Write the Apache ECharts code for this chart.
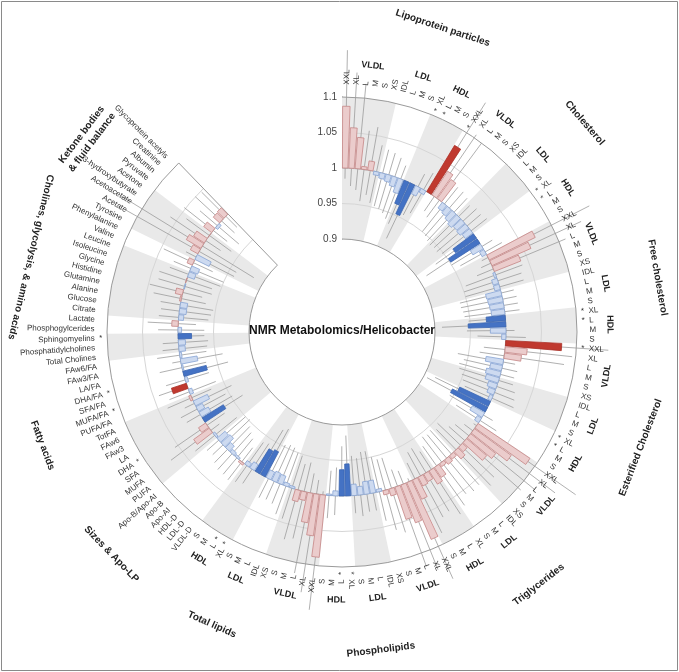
<!DOCTYPE html>
<html>
<head>
<meta charset="utf-8">
<script src="https://cdn.jsdelivr.net/npm/echarts@6/dist/echarts.min.js"></script>
<style>
  html, body { margin: 0; padding: 0; background: #fff; }
  #chart { width: 679px; height: 672px; }
</style>
</head>
<body>
<div id="chart"></div>
<script>
// labels of the lipoprotein subclasses (same for the 7 lipid groups)
var lipoLabels = ['XXL','XL','L','M','S','XS','IDL','L','M','S','XL','L','M','S'];
var lipoSubGroups = [['VLDL', 0, 5], ['LDL', 6, 9], ['HDL', 10, 13]];

var sizeLabels = ['VLDL-D','LDL-D','HDL-D','Apo-AI','Apo-B','Apo-B/Apo-AI'];
var faLabels = ['PUFA','MUFA','SFA','DHA','LA','FAw3','FAw6','TotFA','PUFA/FA','MUFA/FA','SFA/FA','DHA/FA','LA/FA','FAw3/FA','FAw6/FA'];
var cholineLabels = ['Total Cholines','Phosphatidylcholines','Sphingomyelins','Phosphogylcerides','Lactate','Citrate','Glucose','Alanine','Glutamine','Histidine','Glycine','Isoleucine','Leucine','Valine','Phenylalanine','Tyrosine'];
var ketoneLabels = ['Acetate','Acetoacetate','3-hydroxybutyrate','Acetone','Pyruvate','Albumin','Creatinine','Glycoprotein acetyls'];

var groupTitles = ['Lipoprotein particles','Cholesterol','Free cholesterol','Esterified Cholesterol','Triglycerides','Phospholipids','Total lipids','Sizes & Apo-LP','Fatty acids','Cholines, glycolysis, & amino acids','Ketone bodies\n& fluid balance'];

// odds ratios
var orParticles = [1.087,1.057,1.044,1.004,1.013,0.995,0.992,0.990,0.986,0.979,0.965,0.952,0.987,0.994];
var orChol      = [1.076,1.040,1.033,0.990,0.988,0.985,0.982,0.985,0.984,0.987,0.964,0.951,0.983,0.993];
var orFreeChol  = [1.072,1.060,1.040,0.997,0.992,0.992,0.978,0.979,0.980,0.981,0.973,0.947,0.978,0.994];
var orEstChol   = [1.079,1.031,1.024,0.975,0.983,0.979,0.981,0.987,0.990,0.995,0.952,0.944,0.980,0.993];
var orTG        = [1.088,1.064,1.045,1.037,1.009,1.014,1.006,1.008,1.005,1.017,1.022,1.012,1.014,1.030];
var orPL        = [1.087,1.057,1.048,1.010,1.006,0.996,0.982,0.982,0.988,0.984,0.955,0.963,0.993,0.998];
var orTL        = [1.088,1.059,1.042,1.012,1.016,0.997,0.995,0.987,0.986,0.988,0.960,0.963,0.990,0.994];
var orSize      = [1.003,0.997,0.995,0.990,0.983,0.985];
var orFA        = [0.997,1.027,1.012,0.965,0.985,0.990,0.978,1.003,0.995,1.022,0.996,0.966,0.998,0.976,0.997];
var orCholine   = [0.991,0.990,0.981,0.995,1.009,0.993,0.990,0.990,1.002,1.010,0.999,1.000,0.990,0.988,1.008,0.978];
var orKetone    = [1.012,1.024,1.018,1.000,1.014,0.996,1.012,1.013];

// 95% confidence intervals [low, high]
var ciParticles = [[0.985,1.166],[0.975,1.135],[0.97,1.12],[0.955,1.055],[0.965,1.062],[0.955,1.038],[0.952,1.034],[0.95,1.032],[0.946,1.028],[0.94,1.02],[0.935,0.996],[0.915,0.993],[0.955,1.02],[0.962,1.027]];
var ciChol = [[1.003,1.15],[0.975,1.105],[0.97,1.1],[0.95,1.03],[0.948,1.03],[0.945,1.027],[0.943,1.022],[0.945,1.026],[0.944,1.025],[0.948,1.028],[0.932,0.997],[0.912,0.992],[0.95,1.017],[0.96,1.027]];
var ciFreeChol = [[0.99,1.16],[0.985,1.14],[0.975,1.11],[0.955,1.04],[0.95,1.035],[0.95,1.035],[0.94,1.018],[0.94,1.02],[0.942,1.02],[0.943,1.021],[0.948,0.998],[0.91,0.985],[0.945,1.012],[0.96,1.028]];
var ciEstChol = [[1.008,1.145],[0.97,1.095],[0.965,1.085],[0.935,1.017],[0.945,1.022],[0.94,1.02],[0.942,1.021],[0.948,1.027],[0.952,1.03],[0.958,1.033],[0.915,0.99],[0.905,0.985],[0.945,1.015],[0.96,1.027]];
var ciTG = [[0.995,1.17],[0.985,1.145],[0.975,1.12],[0.97,1.105],[0.955,1.065],[0.96,1.07],[0.955,1.058],[0.957,1.06],[0.955,1.056],[0.966,1.068],[0.97,1.075],[0.96,1.063],[0.962,1.066],[0.975,1.085]];
var ciPL = [[0.995,1.15],[0.98,1.13],[0.975,1.12],[0.955,1.065],[0.955,1.058],[0.95,1.042],[0.94,1.025],[0.94,1.025],[0.948,1.03],[0.944,1.025],[0.915,0.996],[0.93,0.997],[0.96,1.027],[0.965,1.032]];
var ciTL = [[0.995,1.163],[0.98,1.14],[0.972,1.115],[0.958,1.068],[0.962,1.072],[0.952,1.045],[0.95,1.042],[0.945,1.03],[0.944,1.028],[0.947,1.03],[0.925,0.996],[0.93,0.997],[0.957,1.024],[0.96,1.028]];
var ciSize = [[0.975,1.032],[0.965,1.03],[0.96,1.03],[0.955,1.026],[0.948,1.02],[0.95,1.022]];
var ciFA = [[0.96,1.035],[0.985,1.07],[0.97,1.055],[0.935,0.996],[0.948,1.022],[0.955,1.026],[0.942,1.015],[0.97,1.037],[0.96,1.03],[1.003,1.042],[0.965,1.028],[0.935,0.998],[0.965,1.032],[0.94,1.012],[0.962,1.032]];
var ciCholine = [[0.96,1.023],[0.958,1.022],[0.963,0.999],[0.963,1.028],[0.975,1.043],[0.958,1.028],[0.955,1.026],[0.953,1.028],[0.965,1.04],[0.972,1.048],[0.96,1.038],[0.962,1.04],[0.952,1.028],[0.95,1.026],[0.97,1.046],[0.94,1.016]];
var ciKetone = [[0.94,1.12],[0.915,1.135],[0.975,1.06],[0.962,1.04],[0.975,1.052],[0.96,1.032],[0.975,1.05],[0.978,1.048]];

// starred (significant) items, position inside each group
var sigParticles = [10, 11];
var sigChol = [0, 10, 11];
var sigFreeChol = [10, 11];
var sigEstChol = [0, 10, 11];
var sigTG = [];
var sigPL = [10, 11];
var sigTL = [10, 11];
var sigSize = [];
var sigFA = [3, 9, 11];
var sigCholine = [2];
var sigKetone = [];

var groupLabels = [lipoLabels, lipoLabels, lipoLabels, lipoLabels, lipoLabels, lipoLabels, lipoLabels, sizeLabels, faLabels, cholineLabels, ketoneLabels];
var groupOR = [orParticles, orChol, orFreeChol, orEstChol, orTG, orPL, orTL, orSize, orFA, orCholine, orKetone];
var groupCI = [ciParticles, ciChol, ciFreeChol, ciEstChol, ciTG, ciPL, ciTL, ciSize, ciFA, ciCholine, ciKetone];
var groupSig = [sigParticles, sigChol, sigFreeChol, sigEstChol, sigTG, sigPL, sigTL, sigSize, sigFA, sigCholine, sigKetone];

// grey bands outside the lipid groups (first, last category of each band)
var extraBands = [[104, 111], [119, 121], [124, 131], [134, 138]];

var cats = [], categoryNames = [], groupRange = [];
groupLabels.forEach(function (labels, g) {
  var start = cats.length;
  labels.forEach(function (lab, k) {
    cats.push({
      label: lab, or: groupOR[g][k], lo: groupCI[g][k][0], hi: groupCI[g][k][1],
      sig: groupSig[g].indexOf(k) >= 0
    });
    categoryNames.push(groupTitles[g] + ' ' + k + ' ' + lab);
  });
  groupRange.push([start, cats.length - 1]);
});

var bands = [];
for (var g = 0; g < 7; g++) {
  lipoSubGroups.forEach(function (sg, s) {
    if ((g * 3 + s) % 2 === 0) bands.push([groupRange[g][0] + sg[1], groupRange[g][0] + sg[2]]);
  });
}
bands = bands.concat(extraBands);

var subLabels = [];
for (var g2 = 0; g2 < 7; g2++) {
  lipoSubGroups.forEach(function (sg) {
    subLabels.push({ text: sg[0], i0: groupRange[g2][0] + sg[1], i1: groupRange[g2][0] + sg[2] });
  });
}

var FONT = 'Liberation Sans, Arial, sans-serif';

function angleOf(params, api, idx) {
  var cs = params.coordSys, p = api.coord([1, idx]);
  return Math.atan2(p[1] - cs.cy, p[0] - cs.cx);
}
function radiusOf(params, api, v) {
  var cs = params.coordSys, p = api.coord([v, 0]);
  return Math.sqrt((p[0] - cs.cx) * (p[0] - cs.cx) + (p[1] - cs.cy) * (p[1] - cs.cy));
}
function bandOf(api) { return api.size([0, 1])[1]; }
function clockDeg(a) { var d = (a * 180 / Math.PI + 90) % 360; return d < 0 ? d + 360 : d; }
function midAngle(params, api, i0, i1) {
  var a0 = angleOf(params, api, i0), a1 = angleOf(params, api, i1);
  while (a1 < a0) a1 += 2 * Math.PI;
  return (a0 + a1) / 2;
}
function tangentText(params, api, v, a, text, font, flipMax) {
  var cs = params.coordSys, r = radiusOf(params, api, v), d = clockDeg(a);
  var flip = d > 90 && d < flipMax;
  return {
    type: 'text', x: cs.cx + r * Math.cos(a), y: cs.cy + r * Math.sin(a),
    rotation: flip ? Math.PI / 2 - a : -(a + Math.PI / 2),
    style: { text: text, font: font, fill: '#222', align: 'center', verticalAlign: 'middle', lineHeight: 13 }
  };
}

var option = {
  animation: false,
  backgroundColor: '#fff',
  textStyle: { fontFamily: FONT },
  polar: { center: [342, 332], radius: [93, 235] },
  angleAxis: {
    type: 'category', data: categoryNames, startAngle: 90, endAngle: -226, clockwise: true,
    axisLine: { show: false }, axisTick: { show: false }, axisLabel: { show: false }, splitLine: { show: false }
  },
  radiusAxis: {
    type: 'value', min: 0.9, max: 1.1, interval: 0.05,
    axisLine: { lineStyle: { color: '#9a9a9a', width: 1 } },
    axisTick: { show: false },
    axisLabel: { fontSize: 10, color: '#444', margin: 5 },
    splitLine: { show: false }
  },
  graphic: [
    { type: 'rect', shape: { x: 1.5, y: 1.5, width: 676, height: 669 }, style: { fill: 'none', stroke: '#8a8a8a', lineWidth: 1 }, z: 0 },
    { type: 'text', x: 342, y: 331, style: { text: 'NMR Metabolomics/Helicobacter', font: 'bold 12px ' + FONT, fill: '#111', align: 'center', verticalAlign: 'middle' }, z: 20 }
  ],
  series: [
    { // grey bands
      type: 'custom', coordinateSystem: 'polar', z: 1, silent: true,
      data: bands.map(function (b) { return [1.1, b[0]]; }),
      renderItem: function (params, api) {
        var b = bands[params.dataIndex], cs = params.coordSys, half = bandOf(api) / 2;
        var s = angleOf(params, api, b[0]) - half, e = angleOf(params, api, b[1]) + half;
        while (e < s) e += 2 * Math.PI;
        return { type: 'sector', shape: { cx: cs.cx, cy: cs.cy, r0: radiusOf(params, api, 0.9), r: radiusOf(params, api, 1.1), startAngle: s, endAngle: e, clockwise: true }, style: { fill: '#e9e9e9' } };
      }
    },
    { // rings
      type: 'custom', coordinateSystem: 'polar', z: 2, silent: true,
      data: [[0.9, 0], [0.95, 0], [1, 0], [1.05, 0], [1.1, 0]],
      renderItem: function (params, api) {
        var v = api.value(0), cs = params.coordSys, half = bandOf(api) / 2;
        var s = angleOf(params, api, 0) - half, e = angleOf(params, api, cats.length - 1) + half;
        while (e < s) e += 2 * Math.PI;
        var edge = v === 1.1 || v === 0.9;
        var col = edge ? '#9a9a9a' : (v === 1 ? '#b4b4b4' : '#d6d6d6');
        var children = [{ type: 'arc', shape: { cx: cs.cx, cy: cs.cy, r: radiusOf(params, api, v), startAngle: s, endAngle: e, clockwise: true }, style: { stroke: col, lineWidth: 1, fill: 'none' } }];
        if (v === 1.1) {
          var r0 = radiusOf(params, api, 0.9), r1 = radiusOf(params, api, 1.1);
          children.push({ type: 'line', shape: { x1: cs.cx + r0 * Math.cos(e), y1: cs.cy + r0 * Math.sin(e), x2: cs.cx + r1 * Math.cos(e), y2: cs.cy + r1 * Math.sin(e) }, style: { stroke: '#9a9a9a', lineWidth: 1 } });
        }
        return { type: 'group', children: children };
      }
    },
    { // confidence intervals
      type: 'custom', coordinateSystem: 'polar', z: 3, silent: true,
      data: cats.map(function (c, i) { return [c.lo, i, c.hi]; }),
      renderItem: function (params, api) {
        var i = api.value(1), p0 = api.coord([api.value(0), i]), p1 = api.coord([api.value(2), i]);
        return { type: 'line', shape: { x1: p0[0], y1: p0[1], x2: p1[0], y2: p1[1] }, style: { stroke: '#9c9c9c', lineWidth: 0.8 } };
      }
    },
    { // bars from 1
      type: 'custom', coordinateSystem: 'polar', z: 4, silent: true,
      data: cats.map(function (c, i) { return [c.or, i]; }),
      renderItem: function (params, api) {
        var c = cats[params.dataIndex], cs = params.coordSys;
        var a = angleOf(params, api, api.value(1)), w = bandOf(api) * 0.43;
        var r1 = radiusOf(params, api, 1), rv = radiusOf(params, api, api.value(0));
        var up = c.or >= 1, fill, stroke;
        if (c.sig) { fill = up ? '#c0392f' : '#4472c4'; stroke = up ? '#a83128' : '#3a64b0'; }
        else { fill = up ? '#ebcccc' : '#cddaf0'; stroke = up ? '#c58585' : '#87a3d4'; }
        return {
          type: 'sector',
          shape: { cx: cs.cx, cy: cs.cy, r0: Math.min(r1, rv), r: Math.max(r1, rv), startAngle: a - w, endAngle: a + w, clockwise: true },
          style: { fill: fill, stroke: stroke, lineWidth: 0.8 }
        };
      }
    },
    { // item labels
      type: 'custom', coordinateSystem: 'polar', z: 5, silent: true,
      data: cats.map(function (c, i) { return [1.1175, i]; }),
      renderItem: function (params, api) {
        var c = cats[params.dataIndex], cs = params.coordSys;
        var a = angleOf(params, api, api.value(1)), flip = clockDeg(a) > 180;
        var r = radiusOf(params, api, api.value(0)), rs = radiusOf(params, api, 1.109);
        var rot = flip ? Math.PI - a : -a;
        var children = [{
          type: 'text', x: cs.cx + r * Math.cos(a), y: cs.cy + r * Math.sin(a), rotation: rot,
          style: { text: c.label, font: '8px ' + FONT, fill: '#333', align: flip ? 'right' : 'left', verticalAlign: 'middle' }
        }];
        if (c.sig) {
          children.push({
            type: 'text', x: cs.cx + rs * Math.cos(a), y: cs.cy + rs * Math.sin(a), rotation: rot,
            style: { text: '*', font: '8px ' + FONT, fill: '#333', align: 'center', verticalAlign: 'middle' }
          });
        }
        return { type: 'group', children: children };
      }
    },
    { // VLDL / LDL / HDL labels
      type: 'custom', coordinateSystem: 'polar', z: 5, silent: true,
      data: subLabels.map(function (s) { return [1.1465, s.i0]; }),
      renderItem: function (params, api) {
        var s = subLabels[params.dataIndex];
        return tangentText(params, api, api.value(0), midAngle(params, api, s.i0, s.i1), s.text, 'bold 9px ' + FONT, 290);
      }
    },
    { // group titles
      type: 'custom', coordinateSystem: 'polar', z: 5, silent: true,
      data: groupRange.map(function (gr) { return [1.22, gr[0]]; }),
      renderItem: function (params, api) {
        var gr = groupRange[params.dataIndex];
        var shift = params.dataIndex === groupRange.length - 1 ? 0 : 1.3;
        var a = midAngle(params, api, gr[0], gr[1]) + shift * bandOf(api);
        return tangentText(params, api, api.value(0), a, groupTitles[params.dataIndex], 'bold 10px ' + FONT, 290);
      }
    }
  ]
};

var chart = echarts.init(document.getElementById('chart'));
chart.setOption(option);
</script>
</body>
</html>
